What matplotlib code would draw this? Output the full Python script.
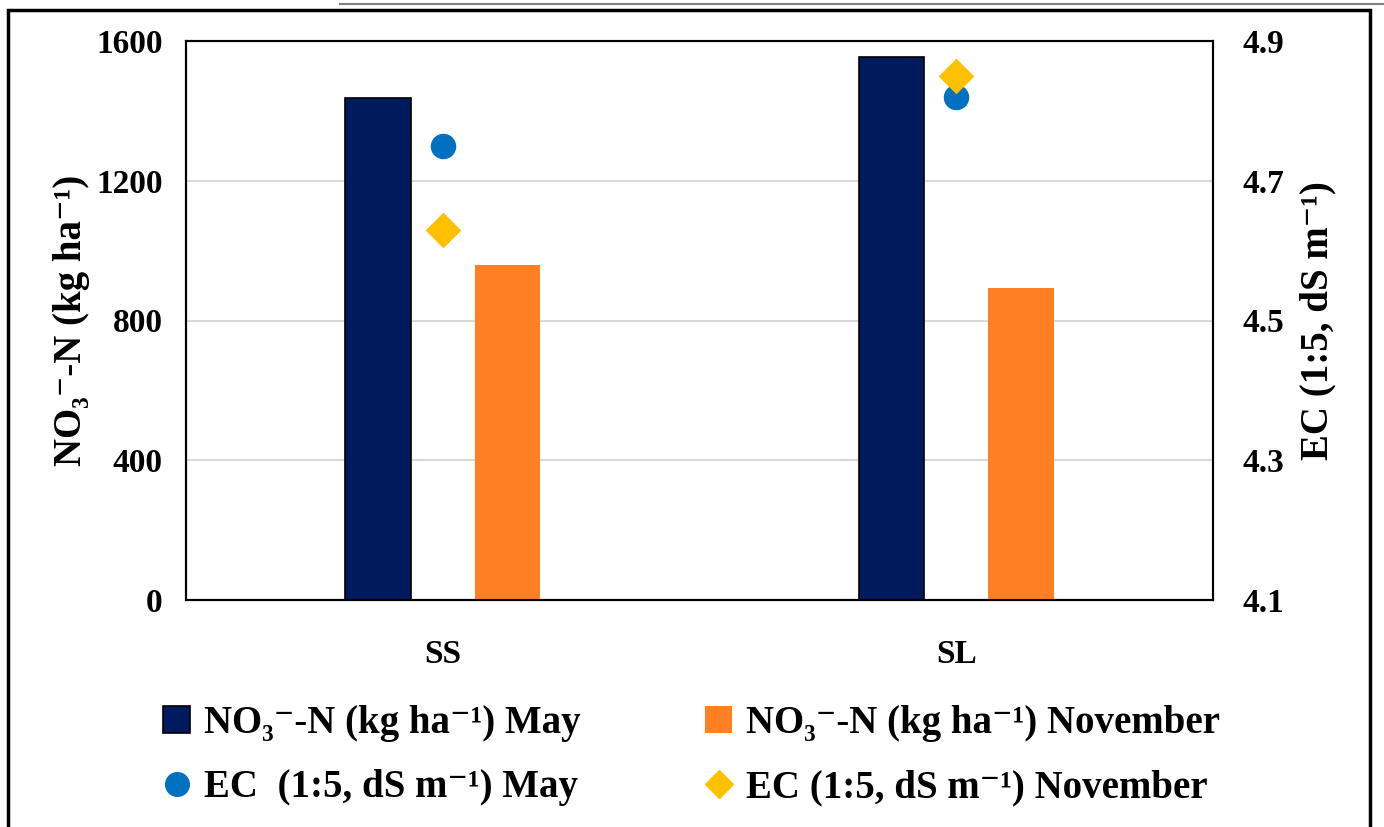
import matplotlib
matplotlib.use("Agg")
import matplotlib.pyplot as plt
import numpy as np
from matplotlib.patches import Rectangle
from matplotlib.lines import Line2D

plt.rcParams["font.family"] = ["Liberation Serif", "DejaVu Serif"]
plt.rcParams["font.weight"] = "bold"

sites = ["SS", "SL"]
no3_may = [1438, 1555]
no3_nov = [960, 893]
ec_may = [4.75, 4.82]
ec_nov = [4.63, 4.85]

NAVY = "#001A5E"
ORANGE = "#FF7F22"
BLUE = "#0070C0"
GOLD = "#FFC000"

fig = plt.figure(figsize=(13.84, 8.27), dpi=100)
ax = fig.add_axes([186 / 1384, 1 - 600 / 827, 1027 / 1384, 559 / 827])
ax2 = ax.twinx()

x = np.arange(len(sites))
w = 0.127
ax.bar(x - 0.126, no3_may, w, color=NAVY, edgecolor="black", linewidth=1.2, zorder=3)
ax.bar(x + 0.126, no3_nov, w, color=ORANGE, zorder=3)
ax2.scatter(x, ec_may, s=300, marker="o", color=BLUE, zorder=4)
ax2.scatter(x, ec_nov, s=330, marker="D", color=GOLD, linewidths=0, zorder=4)

ax.set_xlim(-0.5, 1.5)
ax.set_ylim(0, 1600)
ax.set_yticks([0, 400, 800, 1200, 1600])
ax2.set_ylim(4.1, 4.9)
ax2.set_yticks([4.1, 4.3, 4.5, 4.7, 4.9])
ax2.set_yticklabels(["4.1", "4.3", "4.5", "4.7", "4.9"])
ax.set_xticks(x)
ax.set_xticklabels(sites)
ax.grid(True, axis="y", color="#D9D9D9", linewidth=1.5, zorder=0)
ax.set_axisbelow(True)
for a in (ax, ax2):
    a.tick_params(length=0, labelsize=24, pad=17)
    for s in a.spines.values():
        s.set_linewidth(1.5)
ax.tick_params(axis="x", pad=28)
ax2.tick_params(pad=21)

ax.set_ylabel("NO₃⁻-N (kg ha⁻¹)", fontsize=28, fontweight="bold", labelpad=4)
ax2.set_ylabel("EC (1:5, dS m⁻¹)", fontsize=28, fontweight="bold", labelpad=11)

handles = [
    Rectangle((0, 0), 1, 1, facecolor=NAVY, edgecolor="black", linewidth=1.2),
    Rectangle((0, 0), 1, 1, facecolor=ORANGE, edgecolor="none"),
    Line2D([], [], marker="o", color=BLUE, linestyle="none", markersize=17),
    Line2D([], [], marker="D", color=GOLD, linestyle="none", markersize=14),
]
labels = [
    "NO₃⁻-N (kg ha⁻¹) May",
    "NO₃⁻-N (kg ha⁻¹) November",
    "EC  (1:5, dS m⁻¹) May",
    "EC (1:5, dS m⁻¹) November",
]
# legend filled column-wise: order so that ncol=2 gives rows (May, Nov)
order = [0, 2, 1, 3]
fig.legend([handles[i] for i in order], [labels[i] for i in order],
           ncol=2, loc="upper left", bbox_to_anchor=(128 / 1384, 1 - 670 / 827),
           frameon=False, fontsize=28, handlelength=0.7, handleheight=0.7,
           handletextpad=0.35, columnspacing=3.2, labelspacing=0.7)

# outer frame of the chart area
fig.patches.append(Rectangle((8 / 1384, -0.01), 1362 / 1384, 1 - 10 / 827 + 0.01,
                             transform=fig.transFigure, fill=False,
                             edgecolor="black", linewidth=2.5))
fig.lines.append(Line2D([340 / 1384, 1.0], [1 - 4 / 827, 1 - 4 / 827],
                        transform=fig.transFigure, color="#808080", linewidth=1.5))

fig.savefig("out.png", dpi=100)
